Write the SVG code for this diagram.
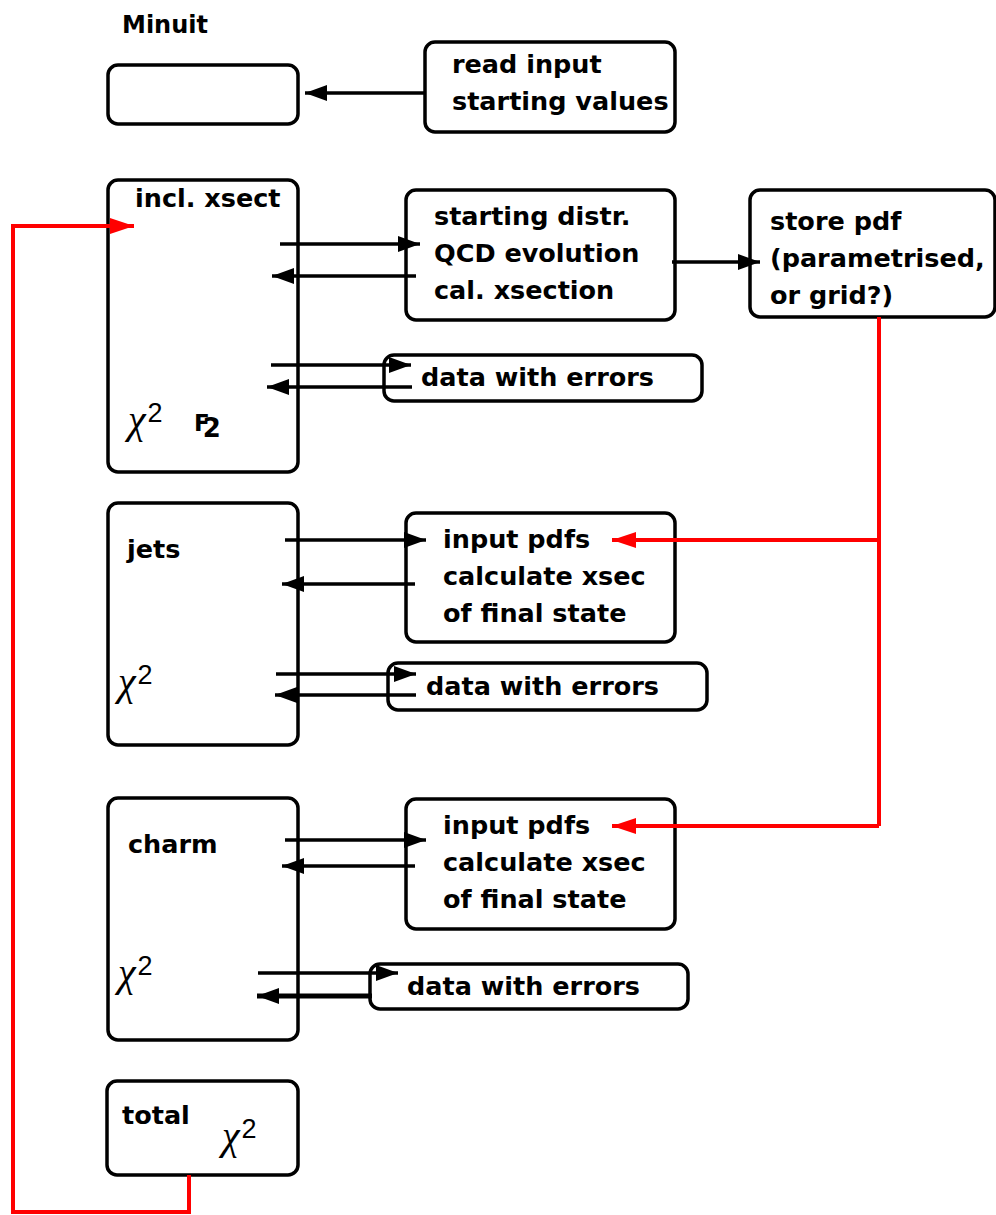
<svg xmlns="http://www.w3.org/2000/svg" width="996" height="1215" viewBox="0 0 996 1215">
<style>
.box{fill:#fff;stroke:#000;stroke-width:3.5}
.t{font-family:"DejaVu Sans",sans-serif;font-weight:bold;font-size:25.5px;fill:#000}
.chi{font-family:"Liberation Serif",serif;font-style:italic;font-size:40px;fill:#000}
.sup{font-family:"Liberation Sans",sans-serif;font-style:normal;font-size:27px}
.c{fill:none;stroke:#000;stroke-width:3.5}
.r{fill:none;stroke:#f00;stroke-width:4}
</style>
<defs>
<marker id="ah" markerUnits="userSpaceOnUse" markerWidth="24" markerHeight="20" refX="22" refY="10" orient="auto">
<path d="M0,2 L22,10 L0,18 Z" fill="#000"/>
</marker>
<marker id="rh" markerUnits="userSpaceOnUse" markerWidth="26" markerHeight="20" refX="24" refY="10" orient="auto">
<path d="M0,2 L24,10 L0,18 Z" fill="#f00"/>
</marker>
</defs>
<rect width="996" height="1215" fill="#fff"/>

<g id="minuit">
<text class="t" x="122" y="33" style="font-size:24px">Minuit</text>
<rect class="box" x="108" y="65" width="190" height="59" rx="10"/>
</g>
<g id="readinput">
<rect class="box" x="425" y="42" width="250" height="90" rx="10"/>
<text class="t" x="452" y="73">read input</text>
<text class="t" x="452" y="110">starting values</text>
</g>
<g id="incl">
<rect class="box" x="108" y="180" width="190" height="292" rx="10"/>
<text class="t" x="135" y="207">incl. xsect</text>
<text class="chi" x="128" y="433">χ<tspan class="sup" dx="2" dy="-11">2</tspan></text>
<text class="t" x="194" y="431" style="font-size:23px">F<tspan dx="-7" dy="6" style="font-size:26px">2</tspan></text>
</g>
<g id="starting">
<rect class="box" x="406" y="190" width="269" height="130" rx="10"/>
<text class="t" x="434" y="225">starting distr.</text>
<text class="t" x="434" y="262">QCD evolution</text>
<text class="t" x="434" y="299">cal. xsection</text>
</g>
<g id="store">
<rect class="box" x="750" y="190" width="245" height="127" rx="10"/>
<text class="t" x="770" y="230">store pdf</text>
<text class="t" x="770" y="267">(parametrised,</text>
<text class="t" x="770" y="304">or grid?)</text>
</g>
<g id="data1">
<rect class="box" x="384" y="355" width="318" height="46" rx="10"/>
<text class="t" x="421" y="386">data with errors</text>
</g>
<g id="jets">
<rect class="box" x="108" y="503" width="190" height="242" rx="10"/>
<text class="t" x="127" y="558">jets</text>
<text class="chi" x="118" y="695">χ<tspan class="sup" dx="2" dy="-11">2</tspan></text>
</g>
<g id="input1">
<rect class="box" x="406" y="513" width="269" height="129" rx="10"/>
<text class="t" x="443" y="548">input pdfs</text>
<text class="t" x="443" y="585">calculate xsec</text>
<text class="t" x="443" y="622">of final state</text>
</g>
<g id="data2">
<rect class="box" x="388" y="663" width="319" height="47" rx="10"/>
<text class="t" x="426" y="695">data with errors</text>
</g>
<g id="charm">
<rect class="box" x="108" y="798" width="190" height="242" rx="10"/>
<text class="t" x="128" y="853">charm</text>
<text class="chi" x="118" y="986">χ<tspan class="sup" dx="2" dy="-11">2</tspan></text>
</g>
<g id="input2">
<rect class="box" x="406" y="799" width="269" height="130" rx="10"/>
<text class="t" x="443" y="834">input pdfs</text>
<text class="t" x="443" y="871">calculate xsec</text>
<text class="t" x="443" y="908">of final state</text>
</g>
<g id="data3">
<rect class="box" x="370" y="964" width="318" height="45" rx="10"/>
<text class="t" x="407" y="995">data with errors</text>
</g>
<g id="total">
<rect class="box" x="107" y="1081" width="191" height="94" rx="10"/>
<text class="t" x="122" y="1124">total</text>
<text class="chi" x="222" y="1149">χ<tspan class="sup" dx="2" dy="-11">2</tspan></text>
</g>

<g id="connectors">
<line class="c" x1="425" y1="93" x2="305" y2="93" marker-end="url(#ah)"/>
<line class="c" x1="280" y1="244" x2="420" y2="244" marker-end="url(#ah)"/>
<line class="c" x1="416" y1="276" x2="272" y2="276" marker-end="url(#ah)"/>
<line class="c" x1="271" y1="365" x2="411" y2="365" marker-end="url(#ah)"/>
<line class="c" x1="412" y1="387" x2="267" y2="387" marker-end="url(#ah)"/>
<line class="c" x1="672" y1="262" x2="760" y2="262" marker-end="url(#ah)"/>
<line class="c" x1="285" y1="540" x2="426" y2="540" marker-end="url(#ah)"/>
<line class="c" x1="415" y1="584" x2="282" y2="584" marker-end="url(#ah)"/>
<line class="c" x1="276" y1="674" x2="416" y2="674" marker-end="url(#ah)"/>
<line class="c" x1="416" y1="695" x2="275" y2="695" marker-end="url(#ah)"/>
<line class="c" x1="285" y1="840" x2="426" y2="840" marker-end="url(#ah)"/>
<line class="c" x1="415" y1="866" x2="282" y2="866" marker-end="url(#ah)"/>
<line class="c" x1="258" y1="973" x2="398" y2="973" marker-end="url(#ah)"/>
<line class="c" x1="372" y1="996" x2="257" y2="996" style="stroke-width:5" marker-end="url(#ah)"/>
<polyline class="r" points="879,317 879,826"/>
<line class="r" x1="879" y1="540" x2="612" y2="540" marker-end="url(#rh)"/>
<line class="r" x1="879" y1="826" x2="612" y2="826" marker-end="url(#rh)"/>
<polyline class="r" points="189,1175 189,1212 13,1212 13,226 134,226" marker-end="url(#rh)"/>
</g>
</svg>
